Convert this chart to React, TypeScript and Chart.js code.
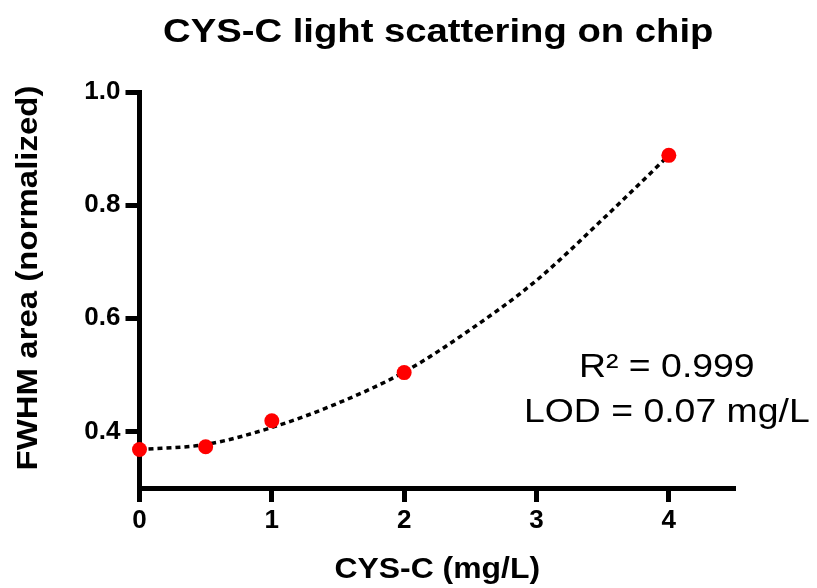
import React, { useEffect, useRef } from "react";
import { Chart, registerables } from "chart.js";

Chart.register(...registerables);

const TITLE = "CYS-C light scattering on chip";
const X_TITLE = "CYS-C (mg/L)";
const Y_TITLE = "FWHM area (normalized)";
const ANNOTATIONS = ["R\u00B2 = 0.999", "LOD = 0.07 mg/L"];

const concentrations = [0, 0.5, 1, 2, 4];
const fwhmArea = [0.368, 0.373, 0.419, 0.504, 0.888];

const fitX = [0, 0.5, 1, 1.5, 2, 2.5, 3, 3.5, 4];
const fitY = [0.368, 0.377, 0.407, 0.45, 0.505, 0.58, 0.667, 0.775, 0.888];

const xTicks = [0, 1, 2, 3, 4];
const yTicks = [0.4, 0.6, 0.8, 1.0];

const FONT = "'Liberation Sans', Arial, sans-serif";

function stretchedText(ctx: any, text: string, x: number, y: number, sx: number) {
  ctx.save();
  ctx.translate(x, y);
  ctx.scale(sx, 1);
  ctx.fillText(text, 0, 0);
  ctx.restore();
}

const textPlugin = {
  id: "textPlugin",
  afterDraw(chart: any) {
    const { ctx, chartArea } = chart;
    const midX = (chartArea.left + chartArea.right) / 2;
    ctx.save();
    ctx.fillStyle = "#000";
    ctx.textAlign = "center";
    ctx.textBaseline = "alphabetic";
    ctx.font = `bold 34px ${FONT}`;
    stretchedText(ctx, TITLE, midX + 1, 42, 1.125);
    ctx.font = `bold 29px ${FONT}`;
    stretchedText(ctx, X_TITLE, midX, 578, 1.1);
    ctx.save();
    ctx.translate(37, 278);
    ctx.rotate(-Math.PI / 2);
    ctx.font = `bold 30px ${FONT}`;
    stretchedText(ctx, Y_TITLE, 0, 0, 1.1);
    ctx.restore();
    ctx.font = `34px ${FONT}`;
    const ax = chart.scales.x.getPixelForValue(4);
    stretchedText(ctx, ANNOTATIONS[0], ax - 2, 377, 1.1);
    stretchedText(ctx, ANNOTATIONS[1], ax - 2, 422, 1.1);
    ctx.restore();
  },
};

export default function App() {
  const ref = useRef<HTMLCanvasElement>(null);
  useEffect(() => {
    if (!ref.current) return;
    const chart = new Chart(ref.current, {
      type: "scatter",
      data: {
        datasets: [
          {
            type: "line",
            data: fitX.map((x, i) => ({ x, y: fitY[i] })),
            borderColor: "#000",
            borderWidth: 3.5,
            borderDash: [5, 4],
            pointRadius: 0,
            cubicInterpolationMode: "monotone",
            fill: false,
            clip: false as any,
            order: 2,
          },
          {
            data: concentrations.map((x, i) => ({ x, y: fwhmArea[i] })),
            backgroundColor: "#ff0000",
            borderColor: "#ff0000",
            pointRadius: 7.5,
            pointBorderWidth: 0,
            clip: false as any,
            order: 1,
          },
        ],
      },
      options: {
        animation: false,
        responsive: false,
        maintainAspectRatio: false,
        layout: { padding: { left: 0, top: 92, right: 82, bottom: 0 } },
        plugins: {
          legend: { display: false },
          tooltip: { enabled: false },
          title: { display: false },
        },
        scales: {
          x: {
            type: "linear",
            min: 0,
            max: 4.5,
            afterBuildTicks: (s: any) => {
              s.ticks = xTicks.map((v) => ({ value: v }));
            },
            afterFit: (s: any) => {
              s.height = 100;
            },
            border: { display: true, color: "#000", width: 5 },
            grid: {
              display: true,
              drawOnChartArea: false,
              drawTicks: true,
              tickLength: 14,
              tickWidth: 5,
              tickColor: "#000",
            },
            ticks: {
              color: "#000",
              font: { family: FONT, size: 26, weight: "bold" },
              padding: 3,
              maxRotation: 0,
              callback: (v: any) => String(v),
            },
          },
          y: {
            type: "linear",
            min: 0.3,
            max: 1.0,
            afterBuildTicks: (s: any) => {
              s.ticks = yTicks.map((v) => ({ value: v }));
            },
            afterFit: (s: any) => {
              s.width = 139.5;
            },
            border: { display: true, color: "#000", width: 5 },
            grid: {
              display: true,
              drawOnChartArea: false,
              drawTicks: true,
              tickLength: 14,
              tickWidth: 5,
              tickColor: "#000",
            },
            ticks: {
              color: "#000",
              font: { family: FONT, size: 26, weight: "bold" },
              padding: 5,
              callback: (v: any) => Number(v).toFixed(1),
            },
          },
        },
      },
      plugins: [textPlugin],
    } as any);
    return () => chart.destroy();
  }, []);
  return (
    <div style={{ position: "fixed", left: 0, top: 0, width: 817, height: 588, background: "#fff" }}>
      <canvas ref={ref} width={817} height={588} style={{ display: "block", width: 817, height: 588 }} />
    </div>
  );
}
